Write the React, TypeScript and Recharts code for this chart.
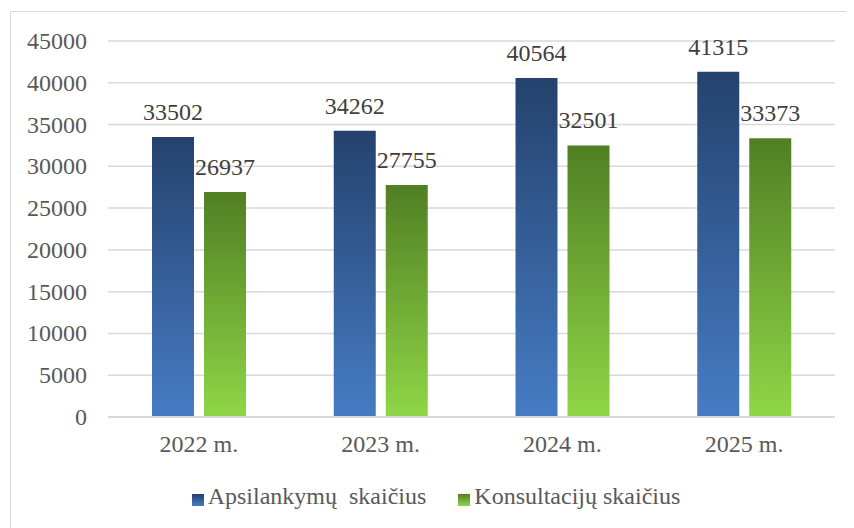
import {
  Bar,
  BarChart,
  CartesianGrid,
  LabelList,
  Legend,
  XAxis,
  YAxis,
} from "recharts";

const years = ["2022 m.", "2023 m.", "2024 m.", "2025 m."];
const visits = [33502, 34262, 40564, 41315];
const consultations = [26937, 27755, 32501, 33373];
const yTicks = [0, 5000, 10000, 15000, 20000, 25000, 30000, 35000, 40000, 45000];

const data = years.map((name, i) => ({
  name,
  visits: visits[i],
  consultations: consultations[i],
}));

const font = "Liberation Serif";
const textColor = "#595959";

const XTick = ({ x, y, payload }: any) => (
  <text
    x={x}
    y={y + 18}
    textAnchor="middle"
    fill={textColor}
    fontSize={24}
    fontFamily={font}
  >
    {payload.value}
  </text>
);

const YTick = ({ x, y, payload }: any) => (
  <text
    x={x}
    y={y + 8}
    textAnchor="end"
    fill={textColor}
    fontSize={24}
    fontFamily={font}
  >
    {payload.value}
  </text>
);

const ValueLabel = ({ x, y, width, value }: any) => (
  <text
    x={x + width / 2}
    y={y - 17}
    textAnchor="middle"
    fill="#404040"
    fontSize={24}
    fontFamily={font}
  >
    {value}
  </text>
);

export default function App() {
  return (
    <div
      style={{
        width: 841,
        height: 516,
        marginLeft: 2,
        marginTop: 3,
        border: "1px solid #d9d9d9",
        fontFamily: font,
      }}
    >
      <BarChart
        width={841}
        height={516}
        data={data}
        barSize={42}
        barGap={10}
        margin={{ top: 29, right: 17, left: 0, bottom: 18 }}
      >
        <defs>
          <linearGradient id="blueGrad" x1="0" y1="0" x2="0" y2="1">
            <stop offset="0%" stopColor="#24426d" />
            <stop offset="100%" stopColor="#467cc4" />
          </linearGradient>
          <linearGradient id="greenGrad" x1="0" y1="0" x2="0" y2="1">
            <stop offset="0%" stopColor="#517f24" />
            <stop offset="100%" stopColor="#8fd646" />
          </linearGradient>
        </defs>
        <CartesianGrid vertical={false} stroke="#d9d9d9" strokeWidth={1.5} />
        <XAxis
          dataKey="name"
          height={66}
          tickLine={false}
          tickSize={6}
          tickMargin={11}
          axisLine={{ stroke: "#d9d9d9", strokeWidth: 2 }}
          tick={<XTick />}
        />
        <YAxis
          width={97}
          domain={[0, 45000]}
          ticks={yTicks}
          interval={0}
          axisLine={false}
          tickLine={false}
          tickSize={6}
          tickMargin={15}
          tick={<YTick />}
        />
        <Legend
          verticalAlign="bottom"
          iconType="square"
          iconSize={12}
          wrapperStyle={{ left: 18 }}
          formatter={(value, _entry, index) => (
            <span
              style={{
                color: textColor,
                fontSize: 24,
                fontFamily: font,
                whiteSpace: "pre",
                paddingRight: index === 0 ? 22 : 0,
              }}
            >
              {value}
            </span>
          )}
        />
        <Bar
          dataKey="visits"
          name="Apsilankymų  skaičius"
          fill="url(#blueGrad)"
          isAnimationActive={false}
        >
          <LabelList dataKey="visits" content={<ValueLabel />} />
        </Bar>
        <Bar
          dataKey="consultations"
          name="Konsultacijų skaičius"
          fill="url(#greenGrad)"
          isAnimationActive={false}
        >
          <LabelList dataKey="consultations" content={<ValueLabel />} />
        </Bar>
      </BarChart>
    </div>
  );
}
